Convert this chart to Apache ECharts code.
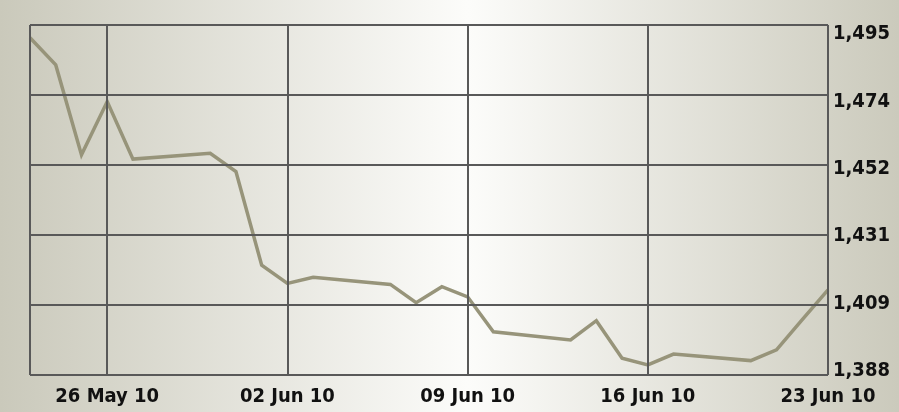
<!DOCTYPE html>
<html>
<head>
<meta charset="utf-8">
<script src="https://cdn.jsdelivr.net/npm/echarts@6/dist/echarts.min.js"></script>
<style>
html,body{margin:0;padding:0;}
#chart{width:899px;height:412px;}
</style>
</head>
<body>
<div id="chart"></div>
<script>
// ---- data ----
var dates = ['2010-05-23','2010-05-24','2010-05-25','2010-05-26','2010-05-27','2010-05-30','2010-05-31','2010-06-01','2010-06-02','2010-06-03','2010-06-06','2010-06-07','2010-06-08','2010-06-09','2010-06-10','2010-06-13','2010-06-14','2010-06-15','2010-06-16','2010-06-17','2010-06-20','2010-06-21','2010-06-22','2010-06-23'];
var values = [1491.1,1482.8,1455.3,1471.6,1454.0,1455.8,1450.2,1421.6,1416.0,1417.9,1415.7,1410.1,1415.0,1411.9,1401.2,1398.7,1404.6,1393.1,1391.1,1394.4,1392.4,1395.7,1404.9,1414.0];
var xTickDates = ['2010-05-26','2010-06-02','2010-06-09','2010-06-16','2010-06-23'];
var xTickLabels = ['26 May 10','02 Jun 10','09 Jun 10','16 Jun 10','23 Jun 10'];
var yTickValues = [1388,1409.4,1430.8,1452.2,1473.6,1495];
var yTickLabels = ['1,388','1,409','1,431','1,452','1,474','1,495'];
var xStart = '2010-05-23', xEnd = '2010-06-23';
var yMin = 1388, yMax = 1495;

function t(s){ var p = s.split('-'); return Date.UTC(+p[0], +p[1]-1, +p[2]); }

var xTickTimes = xTickDates.map(t);
var seriesData = dates.map(function(d,i){ return [t(d), values[i]]; });

var gridColor = '#595959';
var font = '"DejaVu Sans Condensed", "DejaVu Sans", sans-serif';

var vLines = [{xAxis: t(xStart)}].concat(xTickTimes.map(function(v){ return {xAxis: v}; }));
var hLines = yTickValues.map(function(v){ return {yAxis: v}; });

// label axis range so labels sit like the reference (spread slightly inside)
var gridTop = 25, gridBottomPx = 375;
var pxTop = 34, pxBot = 371;
var perPx = (yMax - yMin) / (pxBot - pxTop);
var labMax = yMax + (pxTop - gridTop) * perPx;
var labMin = yMin - (gridBottomPx - pxBot) * perPx;

var chart = echarts.init(document.getElementById('chart'));
chart.setOption({
  animation: false,
  backgroundColor: {
    type: 'linear', x: 0, y: 0, x2: 1, y2: 0,
    colorStops: [
      {offset: 0, color: '#cac9bb'},
      {offset: 0.52, color: '#fcfcfa'},
      {offset: 1, color: '#cbcabc'}
    ]
  },
  grid: {left: 30, right: 71, top: 25, bottom: 37},
  xAxis: [{
    type: 'value',
    min: t(xStart), max: t(xEnd),
    axisLine: {show: false},
    axisTick: {show: false},
    splitLine: {show: false},
    axisLabel: {
      customValues: xTickTimes,
      margin: 12,
      color: '#111111',
      fontFamily: font,
      fontWeight: 'bold',
      fontSize: 20,
      hideOverlap: false,
      formatter: function(v){ var i = xTickTimes.indexOf(v); return i >= 0 ? xTickLabels[i] : ''; }
    }
  }],
  yAxis: [{
    type: 'value',
    min: yMin, max: yMax,
    position: 'right',
    axisLine: {show: false},
    axisTick: {show: false},
    splitLine: {show: false},
    axisLabel: {show: false}
  }, {
    type: 'value',
    min: labMin, max: labMax,
    position: 'right',
    axisLine: {show: false},
    axisTick: {show: false},
    splitLine: {show: false},
    axisLabel: {
      customValues: yTickValues,
      margin: 5,
      color: '#111111',
      fontFamily: font,
      fontWeight: 'bold',
      fontSize: 20,
      formatter: function(v){ var i = yTickValues.indexOf(v); return i >= 0 ? yTickLabels[i] : ''; }
    }
  }],
  series: [{
    type: 'line',
    data: seriesData,
    xAxisIndex: 0,
    yAxisIndex: 0,
    showSymbol: false,
    symbol: 'none',
    clip: false,
    lineStyle: {color: '#97947a', width: 3.5, join: 'miter'},
    markLine: {
      silent: true,
      symbol: 'none',
      label: {show: false},
      animation: false,
      lineStyle: {color: gridColor, width: 2, type: 'solid'},
      emphasis: {disabled: true},
      data: vLines.concat(hLines)
    }
  }]
});
</script>
</body>
</html>
